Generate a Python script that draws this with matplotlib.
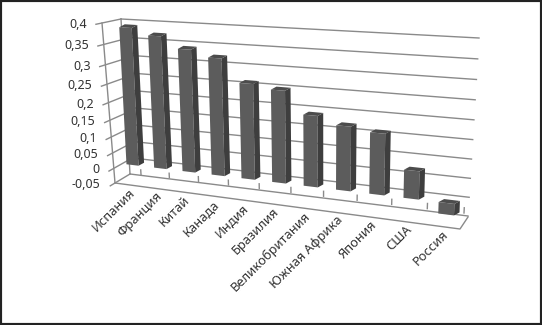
import numpy as np
import matplotlib
matplotlib.use("Agg")
import matplotlib.pyplot as plt
from matplotlib.patches import Rectangle
from matplotlib.transforms import Transform, IdentityTransform

countries = ["Испания", "Франция", "Китай", "Канада", "Индия", "Бразилия",
             "Великобритания", "Южная Африка", "Япония", "США", "Россия"]
values = [0.391, 0.373, 0.342, 0.324, 0.262, 0.251, 0.192, 0.172, 0.162, 0.074, -0.03]
y_ticks = [-0.05, 0, 0.05, 0.1, 0.15, 0.2, 0.25, 0.3, 0.35, 0.4]
y_labels = ["-0,05", "0", "0,05", "0,1", "0,15", "0,2", "0,25", "0,3", "0,35", "0,4"]

W, H = 542, 325
GRID = "#8a8a8a"
TEXT = "#333333"


class Perspective(Transform):
    """Plane homography from data units to display pixels, fitted on 4 points."""
    input_dims = 2
    output_dims = 2

    def __init__(self, data_pts, pixel_pts):
        super().__init__()
        a, b = [], []
        for (x, y), (px, py) in zip(data_pts, pixel_pts):
            py = H - py  # picture rows run down, display runs up
            a.append([x, y, 1, 0, 0, 0, -px * x, -px * y])
            a.append([0, 0, 0, x, y, 1, -py * x, -py * y])
            b += [px, py]
        self.m = np.append(np.linalg.solve(np.array(a), np.array(b)), 1).reshape(3, 3)

    def transform_non_affine(self, pts):
        pts = np.asarray(pts, dtype=float)
        p = np.column_stack([pts, np.ones(len(pts))]) @ self.m.T
        return p[:, :2] / p[:, 2:]


# calibration of the 3D box
bar_plane = Perspective([(0, 0), (10, 0), (10, 0.4), (0, 0.39)],
                        [(132.5, 165), (446.5, 203), (452, 43), (125.5, 28)])
back_wall = Perspective([(-0.5, -0.05), (10.5, -0.05), (10.5, 0.4), (-0.5, 0.4)],
                        [(130, 174), (468, 216), (479, 38), (121, 19)])
tick_plane = Perspective([(0.5, -0.05), (10.5, -0.05), (10.5, 0.4), (0.5, 0.4)],
                         [(141, 174.5), (464, 213), (473, 35), (132, 19.5)])
side_wall = Perspective([(0, -0.05), (1, -0.05), (1, 0.4), (0, 0.4)],
                        [(115, 183), (130, 174), (121, 19), (102, 23)])
floor = Perspective([(-0.5, 0), (10.5, 0), (10.5, 1), (-0.5, 1)],
                    [(115, 183), (460, 229), (468, 217), (130, 174)])

fig = plt.figure(figsize=(W / 100, H / 100), dpi=100, facecolor="white")
ax = fig.add_axes([0, 0, 1, 1])
ax.set_axis_off()
plt.rcParams["font.family"] = "Noto Sans"

# walls and gridlines
for v in y_ticks:
    ax.plot([-0.5, 10.5], [v, v], transform=back_wall, color=GRID, lw=1, zorder=1)
    ax.plot([-0.3, 1], [v, v], transform=side_wall, color=GRID, lw=1, zorder=1)
ax.plot([0, 0], [-0.05, 0.4], transform=side_wall, color=GRID, lw=1, zorder=1)
ax.plot([1, 1], [-0.05, 0.4], transform=side_wall, color=GRID, lw=1, zorder=1)

# floor
ax.plot([-0.5, 10.5, 10.5], [0, 0, 1], transform=floor, color=GRID, lw=1, zorder=1)
for i in range(len(countries)):
    ax.plot([i + 0.5, i + 0.5], [-0.05, -0.036], transform=tick_plane, color=GRID, lw=1, zorder=1)

# bars, front face through the plane transform, side and top pushed back
bar_w = 0.44
depth = np.array([5.5, 3])
for i, v in enumerate(values):
    ax.bar(i, v, bar_w, transform=bar_plane, color="#5c5c5c", zorder=3 + i, clip_on=False)
    left, right = i - bar_w / 2, i + bar_w / 2
    hi = max(v, 0)
    lo = min(v, 0)
    r_low, r_high, l_high = bar_plane.transform([(right, lo), (right, hi), (left, hi)])
    side = np.array([r_low, r_high, r_high + depth, r_low + depth])
    top = np.array([l_high, r_high, r_high + depth, l_high + depth])
    ax.fill(side[:, 0], side[:, 1], transform=IdentityTransform(), color="#3e3e3e", lw=0, zorder=3 + i)
    ax.fill(top[:, 0], top[:, 1], transform=IdentityTransform(), color="#4c4c4c", lw=0, zorder=3 + i)

# value labels
for v, lab in zip(y_ticks, y_labels):
    ax.annotate(lab, xy=(0, v), xycoords=side_wall, xytext=(-10.5, -1), textcoords="offset points",
                ha="right", va="center", fontsize=9, color=TEXT)

# category labels
for i, name in enumerate(countries):
    ax.annotate(name, xy=(i, 0), xycoords=floor, xytext=(0, -1), textcoords="offset points",
                ha="right", va="top", rotation=45, rotation_mode="anchor", fontsize=9.3, color=TEXT)

# picture frame
fig.add_artist(Rectangle((0, 0), 1, 1, transform=fig.transFigure, fill=False, ec="#222222", lw=3))

fig.savefig("out.png", dpi=100)
